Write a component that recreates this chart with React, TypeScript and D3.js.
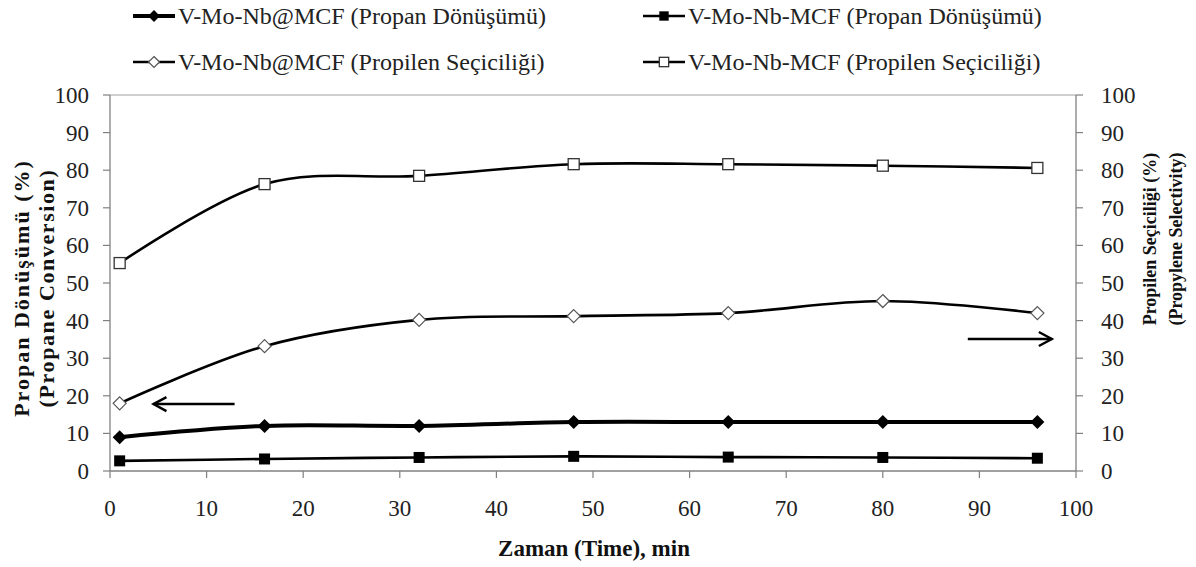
import React from "react";
import * as d3 from "d3";

const times = [1, 16, 32, 48, 64, 80, 96];
const convAt = [9, 12, 12, 13, 13, 13, 13];
const convDash = [2.7, 3.2, 3.6, 3.9, 3.7, 3.6, 3.4];
const selAt = [18, 33.2, 40.2, 41.2, 42, 45.2, 42];
const selDash = [55.3, 76.3, 78.5, 81.6, 81.6, 81.2, 80.6];
const xTicks = [0, 10, 20, 30, 40, 50, 60, 70, 80, 90, 100];
const yTicks = [0, 10, 20, 30, 40, 50, 60, 70, 80, 90, 100];

const W = 1196, H = 567;
const FAM = "Liberation Serif";

type Marker = "diamondFilled" | "squareFilled" | "diamondOpen" | "squareOpen";

const series: { name: string; values: number[]; marker: Marker; width: number }[] = [
  { name: "V-Mo-Nb@MCF (Propan Dönüşümü)", values: convAt, marker: "diamondFilled", width: 4 },
  { name: "V-Mo-Nb-MCF (Propan Dönüşümü)", values: convDash, marker: "squareFilled", width: 2.6 },
  { name: "V-Mo-Nb@MCF (Propilen Seçiciliği)", values: selAt, marker: "diamondOpen", width: 2.6 },
  { name: "V-Mo-Nb-MCF (Propilen Seçiciliği)", values: selDash, marker: "squareOpen", width: 2.6 },
];

function T(props: any) {
  const { children, style, ...rest } = props;
  return (
    <text fontFamily={FAM} style={{ fontFamily: FAM, ...(style || {}) }} {...rest}>
      {children}
    </text>
  );
}

function MarkerShape({ type, x, y, scale = 1 }: { type: Marker; x: number; y: number; scale?: number }) {
  if (type === "diamondFilled") {
    const r = 7 * scale;
    return <path d={`M${x},${y - r}L${x + r},${y}L${x},${y + r}L${x - r},${y}Z`} fill="#000" />;
  }
  if (type === "squareFilled") {
    const s = 11 * scale;
    return <rect x={x - s / 2} y={y - s / 2} width={s} height={s} fill="#000" />;
  }
  if (type === "diamondOpen") {
    const r = 6.5 * scale;
    return <path d={`M${x},${y - r}L${x + r},${y}L${x},${y + r}L${x - r},${y}Z`} fill="#fff" stroke="#555" strokeWidth={1.2} />;
  }
  const s = 11 * scale;
  return <rect x={x - s / 2} y={y - s / 2} width={s} height={s} fill="#fff" stroke="#333" strokeWidth={1.3} />;
}

export default function App() {
  const x = d3.scaleLinear().domain([0, 100]).range([110, 1076]);
  const y = d3.scaleLinear().domain([0, 100]).range([471, 95]);
  const line = d3
    .line<[number, number]>()
    .x((d) => x(d[0]))
    .y((d) => y(d[1]))
    .curve(d3.curveCardinal.tension(0));

  const legendPos = [
    { lx: 133, ly: 16 },
    { lx: 643, ly: 16 },
    { lx: 133, ly: 62 },
    { lx: 643, ly: 62 },
  ];

  const ax = 88.8, axEnd = 97.5, axY = 35.1;
  const bx = 12.9, bxEnd = 4.5, bxY = 17.8;
  const axisC = "#808080";

  return (
    <svg
      width={W}
      height={H}
      fontFamily={FAM}
      style={{ display: "block", position: "absolute", left: 0, top: 0, background: "#fff", fontFamily: FAM }}
    >
      <rect width={W} height={H} fill="#fff" />
      {/* axes */}
      <line x1={x(0)} x2={x(100)} y1={y(100)} y2={y(100)} stroke="#a0a0a0" strokeWidth={1} />
      <line x1={x(0)} x2={x(0)} y1={y(0)} y2={y(100)} stroke={axisC} strokeWidth={1.3} />
      <line x1={x(100)} x2={x(100)} y1={y(0)} y2={y(100)} stroke={axisC} strokeWidth={1.3} />
      <line x1={x(0)} x2={x(100)} y1={y(0)} y2={y(0)} stroke={axisC} strokeWidth={1.3} />
      {yTicks.map((t) => (
        <g key={"yl" + t}>
          <line x1={x(0) - 7} x2={x(0)} y1={y(t)} y2={y(t)} stroke={axisC} strokeWidth={1.2} />
          <T x={89} y={y(t)} dy="0.35em" textAnchor="end" fontSize={23} fill="#222">{t}</T>
          <line x1={x(100)} x2={x(100) + 7} y1={y(t)} y2={y(t)} stroke={axisC} strokeWidth={1.2} />
          <T x={1101} y={y(t)} dy="0.35em" textAnchor="start" fontSize={23} fill="#222">{t}</T>
        </g>
      ))}
      {xTicks.map((t) => (
        <g key={"x" + t}>
          <line x1={x(t)} x2={x(t)} y1={y(0)} y2={y(0) + 7} stroke={axisC} strokeWidth={1.2} />
          <T x={x(t)} y={508} dy="0.35em" textAnchor="middle" fontSize={23} fill="#222">{t}</T>
        </g>
      ))}
      {/* axis titles */}
      <T x={594} y={548} dy="0.35em" textAnchor="middle" fontSize={23} fontWeight="bold" fill="#111">Zaman (Time), min</T>
      <g transform="translate(21,288) rotate(-90)">
        <T textAnchor="middle" dy="0.35em" fontSize={22} fontWeight="bold" fill="#111" letterSpacing={2}>Propan Dönüşümü (%)</T>
      </g>
      <g transform="translate(46,288) rotate(-90)">
        <T textAnchor="middle" dy="0.35em" fontSize={22} fontWeight="bold" fill="#111" letterSpacing={1.6}>(Propane Conversion)</T>
      </g>
      <g transform="translate(1150,239) rotate(-90)">
        <T textAnchor="middle" dy="0.35em" fontSize={18} fontWeight="bold" fill="#111">Propilen Seçiciliği (%)</T>
      </g>
      <g transform="translate(1176,239) rotate(-90)">
        <T textAnchor="middle" dy="0.35em" fontSize={18} fontWeight="bold" fill="#111">(Propylene Selectivity)</T>
      </g>
      {/* series */}
      {series.map((s) => {
        const pts = times.map((t, i) => [t, s.values[i]] as [number, number]);
        return (
          <g key={s.name}>
            <path d={line(pts) || ""} fill="none" stroke="#000" strokeWidth={s.width} />
            {pts.map((p, i) => (
              <MarkerShape key={i} type={s.marker} x={x(p[0])} y={y(p[1])} />
            ))}
          </g>
        );
      })}
      {/* arrows */}
      <g stroke="#000" strokeWidth={2.4} fill="none">
        <line x1={x(bx)} x2={x(bxEnd)} y1={y(bxY)} y2={y(bxY)} />
        <path d={`M${x(bxEnd) + 13},${y(bxY) - 7}L${x(bxEnd)},${y(bxY)}L${x(bxEnd) + 13},${y(bxY) + 7}`} />
        <line x1={x(ax)} x2={x(axEnd)} y1={y(axY)} y2={y(axY)} />
        <path d={`M${x(axEnd) - 13},${y(axY) - 7}L${x(axEnd)},${y(axY)}L${x(axEnd) - 13},${y(axY) + 7}`} />
      </g>
      {/* legend */}
      {series.map((s, i) => {
        const p = legendPos[i];
        return (
          <g key={"lg" + i}>
            <line x1={p.lx} x2={p.lx + 42} y1={p.ly} y2={p.ly} stroke="#000" strokeWidth={s.width} />
            <MarkerShape type={s.marker} x={p.lx + 21} y={p.ly} scale={0.85} />
            <T x={p.lx + 45} y={p.ly} dy="0.35em" fontSize={24} fill="#222">{s.name}</T>
          </g>
        );
      })}
    </svg>
  );
}
